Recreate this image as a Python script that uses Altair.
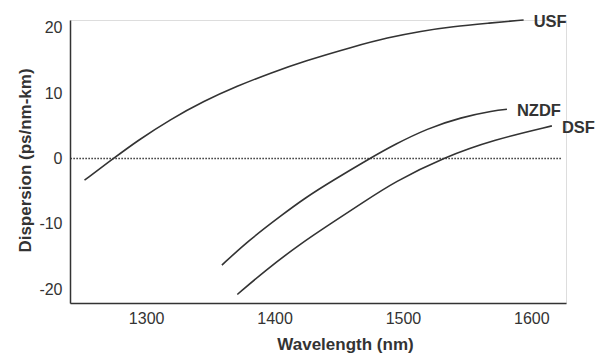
import altair as alt
import pandas as pd

# Data
usf_wl = [1252, 1274.5, 1293, 1319, 1345, 1371, 1397, 1423, 1461, 1488, 1514, 1539, 1566, 1594]
usf_d = [-3.3, 0.0, 2.7, 6.0, 8.8, 11.1, 13.1, 14.9, 17.1, 18.5, 19.5, 20.2, 20.7, 21.2]
nzdf_wl = [1359, 1380, 1406, 1424, 1445, 1475, 1493, 1519, 1545, 1571, 1581]
nzdf_d = [-16.3, -12.5, -8.6, -6.0, -3.4, 0.1, 2.1, 4.6, 6.3, 7.33, 7.54]
dsf_wl = [1371, 1393, 1419, 1445, 1469, 1493, 1532, 1571, 1616]
dsf_d = [-20.8, -17.1, -13.2, -9.8, -6.7, -3.6, 0.2, 2.9, 5.0]

zero_wl = [1241, 1624]
zero_d = [0, 0]

x_ticks = [1300, 1400, 1500, 1600]
y_ticks = [-20, -10, 0, 10, 20]
x_domain = [1240.7, 1627]
y_domain = [-22.1, 21.2]

rows = []
for name, wl, d in [("USF", usf_wl, usf_d), ("NZDF", nzdf_wl, nzdf_d), ("DSF", dsf_wl, dsf_d)]:
    for i, (a, b) in enumerate(zip(wl, d)):
        rows.append({"fiber": name, "wl": a, "d": b, "order": i})
df = pd.DataFrame(rows)
labels = df.sort_values("order").groupby("fiber").tail(1)
zero = pd.DataFrame({"wl": zero_wl, "d": zero_d})

FONT = "Liberation Sans"
INK = "#333333"

xs = alt.Scale(domain=x_domain, nice=False, zero=False)
ys = alt.Scale(domain=y_domain, nice=False, zero=False)

xaxis = alt.Axis(values=x_ticks, ticks=False, grid=False, labelFontSize=16, labelFont=FONT,
                 labelColor=INK, labelPadding=7, domainColor=INK, domainWidth=1.5,
                 labelExpr="toString(datum.value)",
                 title="Wavelength (nm)", titleFont=FONT, titleFontSize=17, titleFontWeight="bold",
                 titleColor=INK, titleX=275, titleY=41, titleAlign="center", titleBaseline="middle",
                 labelFlush=False)
yaxis = alt.Axis(values=y_ticks, ticks=False, grid=False, labelFontSize=16, labelFont=FONT,
                 labelColor=INK, labelPadding=8, domainColor=INK, domainWidth=1.5,
                 labelExpr="toString(datum.value)",
                 title="Dispersion (ps/nm-km)", titleFont=FONT, titleFontSize=17, titleFontWeight="bold",
                 titleColor=INK, titleX=-45, titleY=140, titleAlign="center", titleBaseline="middle",
                 labelFlush=False)

lines = alt.Chart(df).mark_line(color=INK, strokeWidth=1.6, interpolate="basis").encode(
    x=alt.X("wl:Q", scale=xs, axis=xaxis),
    y=alt.Y("d:Q", scale=ys, axis=yaxis),
    detail="fiber:N",
    order="order:Q",
)

zline = alt.Chart(zero).mark_line(color=INK, strokeWidth=1.5, strokeDash=[1.5, 1.5]).encode(
    x=alt.X("wl:Q", scale=xs),
    y=alt.Y("d:Q", scale=ys),
)

text = alt.Chart(labels).mark_text(align="left", baseline="middle", dx=10, dy=2, font=FONT,
                                   fontSize=16.5, fontWeight="bold", color=INK).encode(
    x=alt.X("wl:Q", scale=xs),
    y=alt.Y("d:Q", scale=ys),
    text="fiber:N",
)

chart = alt.layer(zline, lines, text).properties(
    width=496, height=283,
    autosize=alt.AutoSizeParams(type="none"),
    padding={"left": 70, "top": 20, "right": 34, "bottom": 51},
).configure_view(stroke=None).configure(background="white")

chart.save("out.html", embed_options={"renderer": "svg", "actions": False})
